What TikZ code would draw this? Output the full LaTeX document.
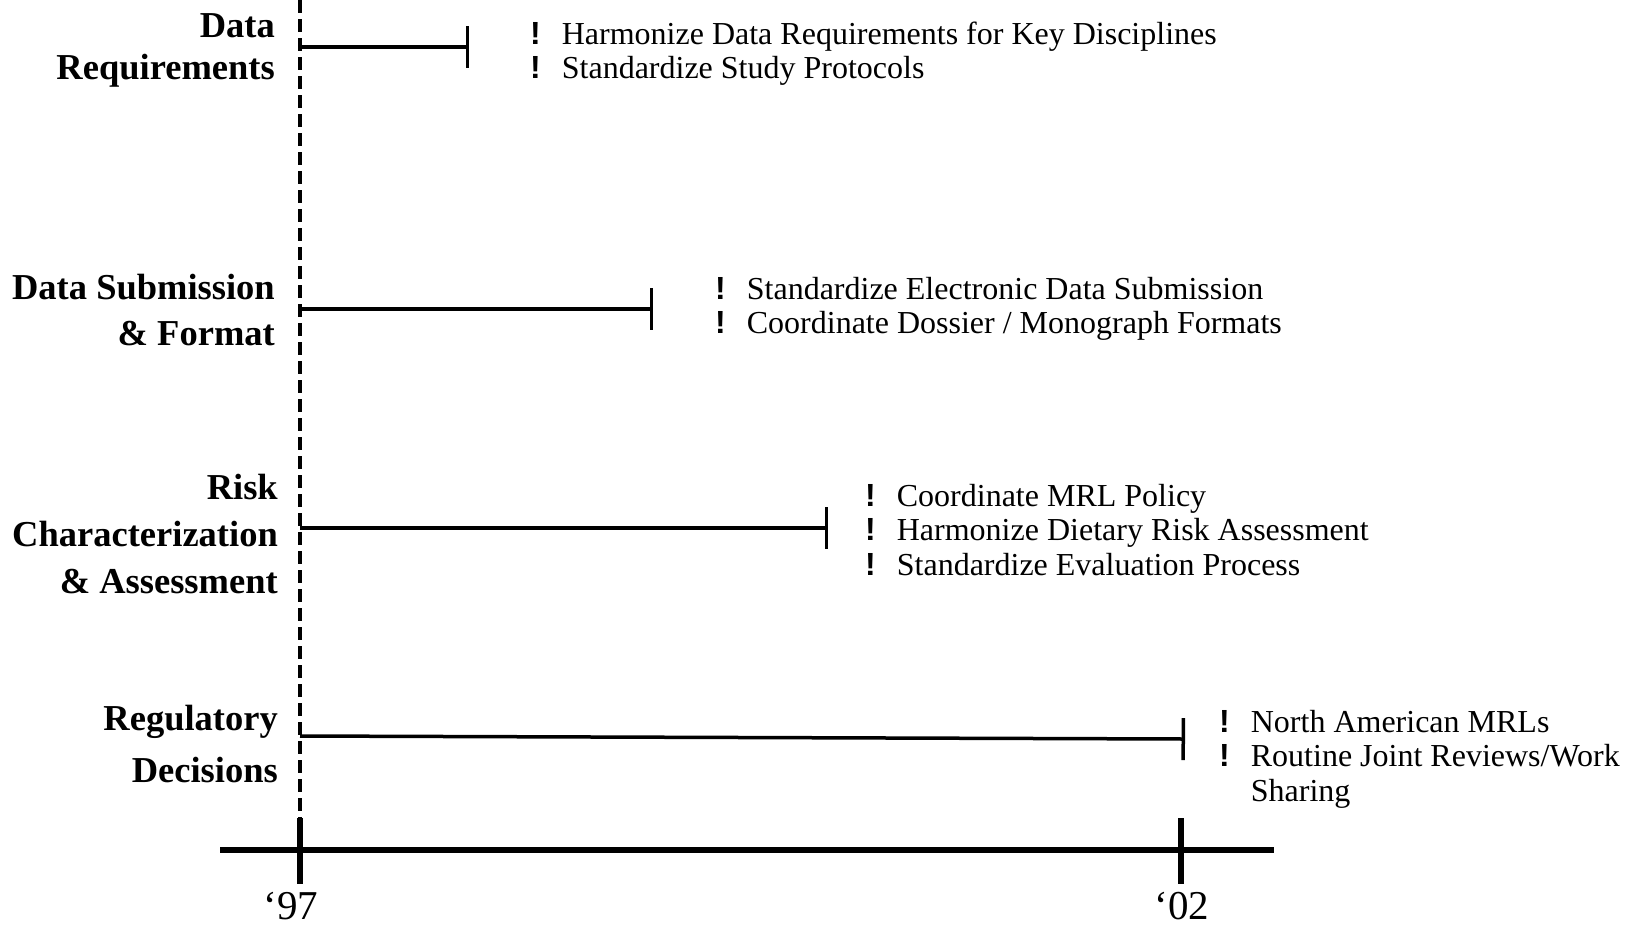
\documentclass[tikz,border=0pt]{standalone}
\usepackage{fontspec}
\setmainfont{Liberation Serif}
\newfontfamily\bangfont{Liberation Sans}
\usetikzlibrary{arrows.meta}
\newcommand{\bang}{{\bangfont\bfseries !}}
\tikzset{
	head/.style={anchor=east, align=right, inner sep=0pt, font=\fontsize{36.5}{42}\selectfont\bfseries},
	items/.style={anchor=base west, inner sep=0pt, font=\fontsize{32}{34.5}\selectfont},
	span/.style={line width=3.5pt, -{Bar[width=42pt, line width=3.5pt]}},
	year/.style={anchor=base, inner sep=0pt, font=\fontsize{41}{44}\selectfont}
}
\begin{document}
\begin{tikzpicture}[x=1pt, y=-1pt]
		%%%%% START %%%%%
		\useasboundingbox (0, 0) rectangle (1640, 930);
		
		% start line
		\coordinate (top) at (300, 0);
		\coordinate (bottom) at (300, 818);
		\draw[line width=3.5pt, dash pattern=on 13pt off 6pt] (top) -- (bottom);
		
		% time axis
		\coordinate (axL) at (220, 850);
		\coordinate (axR) at (1274, 850);
		\draw[line width=6.5pt] (axL) -- (axR);
		\coordinate (t97a) at (300, 818);
		\coordinate (t97b) at (300, 884);
		\coordinate (t02a) at (1181, 818);
		\coordinate (t02b) at (1181, 884);
		\draw[line width=6.5pt] (t97a) -- (t97b);
		\draw[line width=6.5pt] (t02a) -- (t02b);
		\node[year] (y97) at (291, 919) {‘97};
		\node[year] (y02) at (1182, 919) {‘02};
		
		% headings
		\node[head] (req) at (275, 50) {Data\\Requirements};
		\node[head] (sub) at (275, 310) {Data Submission\\[4pt] \& Format};
		\node[head] (risk) at (278, 534) {Risk\\[5pt] Characterization\\[5pt] \& Assessment};
		\node[head] (reg) at (278, 744) {Regulatory\\[10pt] Decisions};
		
		% spans
		\coordinate (s1) at (300, 47);
		\coordinate (e1) at (469, 47);
		\draw[span] (s1) -- (e1);
		\coordinate (s2) at (300, 309);
		\coordinate (e2) at (653, 309);
		\draw[span] (s2) -- (e2);
		\coordinate (s3) at (300, 528);
		\coordinate (e3) at (828, 528);
		\draw[span] (s3) -- (e3);
		\coordinate (s4) at (300, 736);
		\coordinate (e4) at (1185, 739);
		\draw[span] (s4) -- (e4);
		
		% goals
		\node[items] (g1) at (530, 44) {\begin{tabular}[t]{@{}l@{\hspace{21pt}}l@{}}
			\bang & Harmonize Data Requirements for Key Disciplines\\
			\bang & Standardize Study Protocols
		\end{tabular}};
		\node[items] (g2) at (715, 299) {\begin{tabular}[t]{@{}l@{\hspace{21pt}}l@{}}
			\bang & Standardize Electronic Data Submission\\
			\bang & Coordinate Dossier / Monograph Formats
		\end{tabular}};
		\node[items] (g3) at (865, 506) {\begin{tabular}[t]{@{}l@{\hspace{21pt}}l@{}}
			\bang & Coordinate MRL Policy\\
			\bang & Harmonize Dietary Risk Assessment\\
			\bang & Standardize Evaluation Process
		\end{tabular}};
		\node[items] (g4) at (1219, 732) {\begin{tabular}[t]{@{}l@{\hspace{21pt}}l@{}}
			\bang & North American MRLs\\
			\bang & Routine Joint Reviews/Work\\
			& Sharing
		\end{tabular}};
		
		%%%%% END %%%%%
	\end{tikzpicture}
\end{document}
